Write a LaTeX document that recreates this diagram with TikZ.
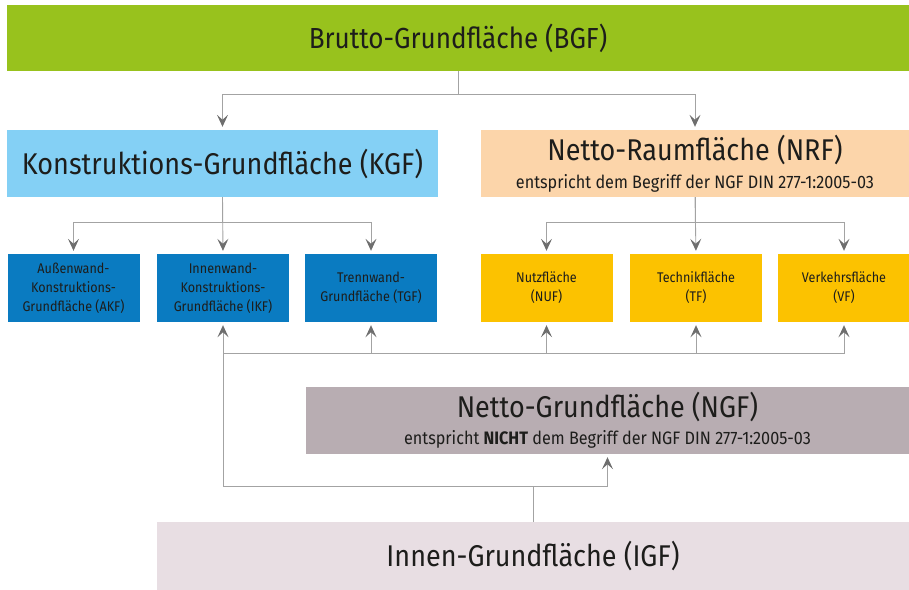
\documentclass[tikz,border=0pt]{standalone}
\usepackage{fontspec}
\setmainfont[FakeStretch=0.9]{Fira Sans}
\usetikzlibrary{arrows.meta}

\definecolor{bgfgreen}{HTML}{98C21D}
\definecolor{kgfblue}{HTML}{84D0F5}
\definecolor{nrfpeach}{HTML}{FCD5AA}
\definecolor{partblue}{HTML}{0A7BC1}
\definecolor{partyellow}{HTML}{FCC200}
\definecolor{ngfmauve}{HTML}{B8ADB2}
\definecolor{igfrose}{HTML}{E8DEE3}
\definecolor{areatext}{HTML}{1D1D1B}
\definecolor{linegray}{HTML}{A3A3A3}
\definecolor{tipgray}{HTML}{6E6E6E}

\tikzset{
  area/.style={rectangle, inner sep=0pt, align=center, text=areatext},
  mainarea/.style={area, font=\fontsize{30}{34}\selectfont},
  partarea/.style={area, minimum width=132pt, minimum height=68pt,
    font=\fontsize{14}{19}\selectfont},
  link/.style={draw=linegray, line width=0.9pt},
  arr/.style={link, shorten >=3pt,
    -{Stealth[length=12pt,width=11pt,inset=5pt,color=tipgray]}}
}

\begin{document}
\begin{tikzpicture}[x=1pt,y=-1pt]
\useasboundingbox (0,0) rectangle (909,589);

% top level
\node[area, fill=bgfgreen, minimum width=902pt, minimum height=66pt,
  font=\fontsize{29}{32}\selectfont] (bgf) at (458,38) {Brutto-Grundfläche (BGF)};

% second level
\node[mainarea, fill=kgfblue, minimum width=431pt, minimum height=67pt]
  (kgf) at (222.5,163.5) {Konstruktions-Grundfläche (KGF)};
\node[mainarea, fill=nrfpeach, minimum width=428pt, minimum height=67pt]
  (nrf) at (695,163.5) {Netto-Raumfläche (NRF)\\[-6pt]
  {\fontsize{18}{20}\selectfont entspricht dem Begriff der NGF DIN 277-1:2005-03}};

% parts
\node[partarea, fill=partblue] (akf) at (73.5,288)
  {Außenwand-\\Konstruktions-\\Grundfläche (AKF)};
\node[partarea, fill=partblue] (ikf) at (223,288)
  {Innenwand-\\Konstruktions-\\Grundfläche (IKF)};
\node[partarea, fill=partblue] (tgf) at (371,288)
  {Trennwand-\\Grundfläche (TGF)};
\node[partarea, fill=partyellow] (nuf) at (546.5,288) {Nutzfläche\\(NUF)};
\node[partarea, fill=partyellow] (tf) at (696,288) {Technikfläche\\(TF)};
\node[partarea, fill=partyellow] (vf) at (844,288) {Verkehrsfläche\\(VF)};

% lower level
\node[mainarea, fill=ngfmauve, minimum width=603pt, minimum height=67pt]
  (ngf) at (607.5,420.5) {Netto-Grundfläche (NGF)\\[-7pt]
  {\fontsize{18}{20}\selectfont entspricht \textbf{NICHT} dem Begriff der NGF DIN 277-1:2005-03}};
\node[mainarea, fill=igfrose, minimum width=752pt, minimum height=68pt]
  (igf) at (533,556) {Innen-Grundfläche (IGF)};

\coordinate (split) at (533,486);

% connectors
\draw[arr] (bgf.south) -- ++(0,23) -| (kgf.north);
\draw[arr] (bgf.south) -- ++(0,23) -| (nrf.north);

\draw[arr] (kgf.south) -- ++(0,25) -| (akf.north);
\draw[arr] (kgf.south) -- (ikf.north);
\draw[arr] (kgf.south) -- ++(0,25) -| (tgf.north);

\draw[arr] (nrf.south) -- ++(0,25) -| (nuf.north);
\draw[arr] (nrf.south) -- (tf.north);
\draw[arr] (nrf.south) -- ++(0,25) -| (vf.north);

\draw[link] (igf.north) -- (split);
\draw[arr] (split) -| (ngf.south);
\draw[arr] (split) -| (ikf.south);
\draw[arr] (ikf.south |- 0,353) -| (tgf.south);
\draw[arr] (ikf.south |- 0,353) -| (nuf.south);
\draw[arr] (ikf.south |- 0,353) -| (tf.south);
\draw[arr] (ikf.south |- 0,353) -| (vf.south);
\end{tikzpicture}
\end{document}
